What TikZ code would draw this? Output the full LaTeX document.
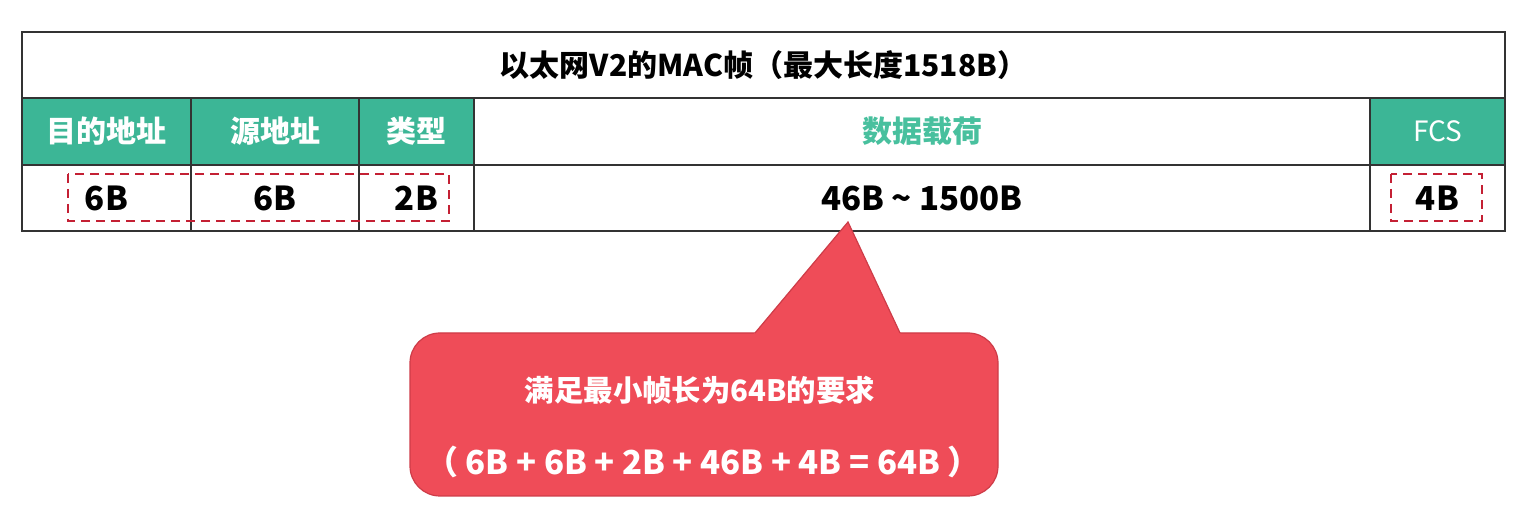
\documentclass[tikz,border=0pt]{standalone}
\usepackage{fontspec}
\setmainfont{Noto Sans CJK SC}
\usetikzlibrary{positioning}
\definecolor{framegreen}{RGB}{60,182,150}
\definecolor{paygreen}{RGB}{72,192,158}
\definecolor{markred}{RGB}{196,32,52}
\definecolor{notered}{RGB}{239,76,88}
\definecolor{noteedge}{RGB}{206,60,72}

\begin{document}
\begin{tikzpicture}[
    x=0.5pt, y=-0.5pt,
    cell/.style={draw=black!80, line width=1pt, inner sep=0pt, outer sep=0pt, minimum height=33pt},
    hcell/.style={cell, minimum height=33.5pt, fill=framegreen, text=white,
      font=\fontsize{15}{18}\selectfont\bfseries},
    vcell/.style={cell, font=\fontsize{16.5}{20}\selectfont\bfseries},
    redbox/.style={draw=markred, line width=1.2pt, dash pattern=on 4.5pt off 3pt},
    notetxt/.style={text=white, font=\fontsize{14.7}{17}\selectfont\bfseries}
  ]
    \useasboundingbox (0,0) rectangle (1528,522);

    % --- 标题行 ---
    \node[cell, minimum width=741.5pt, anchor=north west,
      font=\fontsize{15}{18}\selectfont\bfseries] (title) at (22,32)
      {以太网V2的MAC帧（最大长度1518B）};

    % --- 字段名 ---
    \node[hcell, minimum width=84.5pt, anchor=north west] (h1) at (title.south west) {目的地址};
    \node[hcell, minimum width=84pt, right=0pt of h1] (h2) {源地址};
    \node[hcell, minimum width=57.5pt, right=0pt of h2] (h3) {类型};
    \node[hcell, minimum width=448pt, right=0pt of h3, fill=white, text=paygreen] (h4) {数据载荷};
    \node[hcell, minimum width=67.5pt, right=0pt of h4,
      font=\fontsize{14}{17}\selectfont\mdseries] (h5) {FCS};

    % --- 字段长度 ---
    \node[vcell, minimum width=84.5pt, below=0pt of h1] (v1) {6B};
    \node[vcell, minimum width=84pt, below=0pt of h2] (v2) {6B};
    \node[vcell, minimum width=57.5pt, below=0pt of h3] (v3) {2B};
    \node[vcell, minimum width=448pt, below=0pt of h4] (v4) {46B \textasciitilde{} 1500B};
    \node[vcell, minimum width=67.5pt, below=0pt of h5] (v5) {4B};

    \draw[redbox] (68,174) rectangle (449,221);
    \draw[redbox] (1391,174) rectangle (1482,221);

    % --- 说明框 ---
    \node[draw=noteedge, fill=notered, line width=0.6pt, rounded corners=15pt,
      minimum width=294pt, minimum height=81.5pt] (note) at (704,414.5) {};
    \coordinate (tip) at (848,222);
    \fill[notered] (751.5,337) -- (tip) -- (902,337) -- cycle;
    \draw[noteedge, line width=0.6pt] (755,333) -- (tip) -- (900,333);

    \node[notetxt] (n1) at (700,390) {满足最小帧长为64B的要求};
    \node[notetxt, font=\fontsize{16.5}{19}\selectfont\bfseries] (n2) at (703,462)
      {（ 6B + 6B + 2B + 46B + 4B = 64B ）};
  \end{tikzpicture}
\end{document}
